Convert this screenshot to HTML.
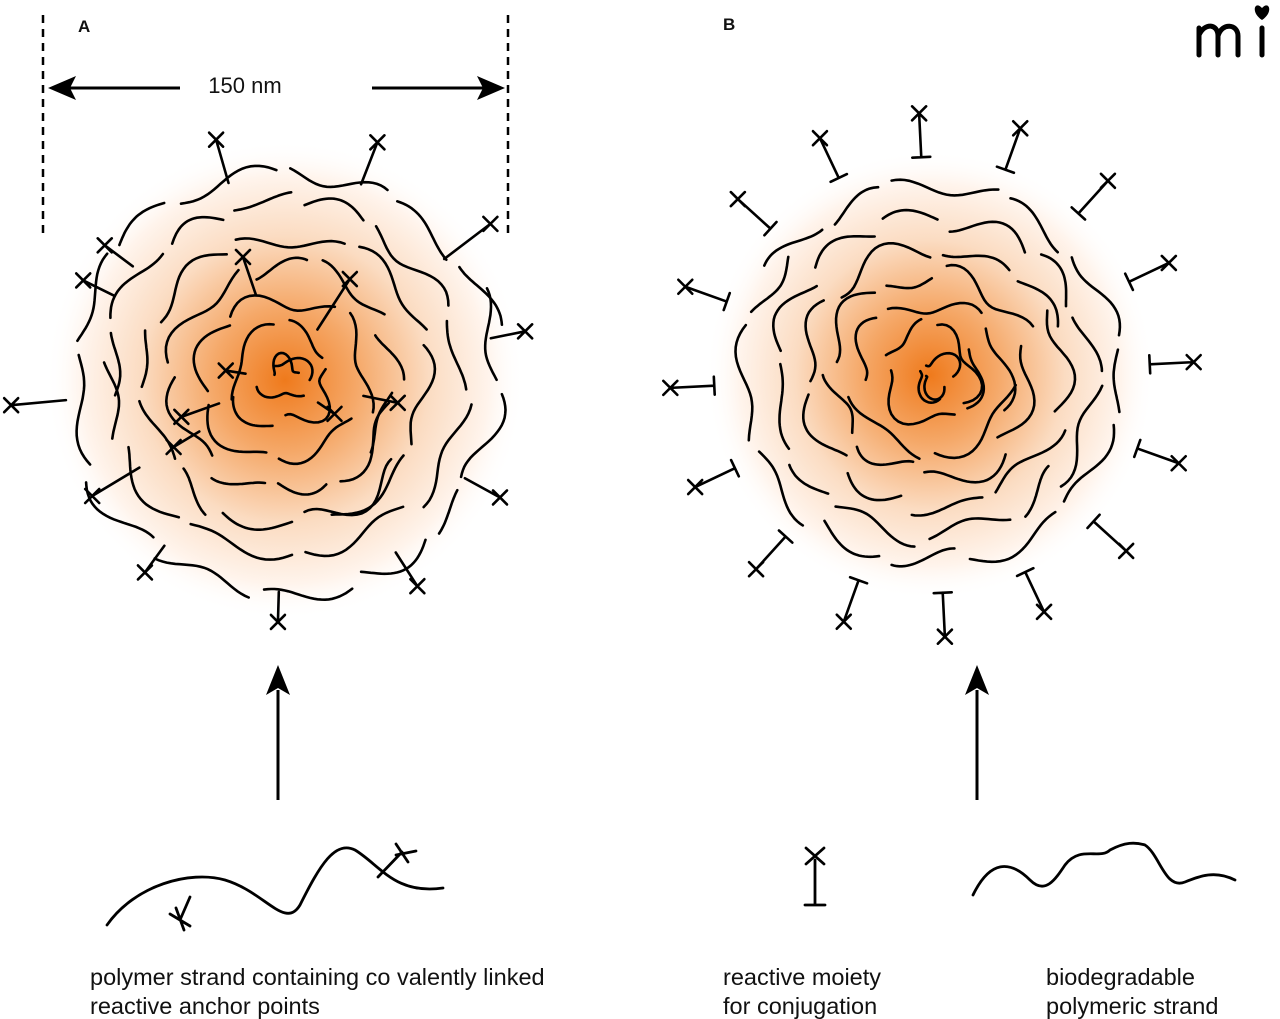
<!DOCTYPE html>
<html><head><meta charset="utf-8">
<style>
html,body{margin:0;padding:0;background:#fff;}
svg{display:block}
text{font-family:"Liberation Sans",sans-serif;fill:#111}
</style></head>
<body>
<svg id="s" width="1280" height="1019" viewBox="0 0 1280 1019" xmlns="http://www.w3.org/2000/svg">
<defs>
<radialGradient id="ga" cx="0.5" cy="0.5" r="0.5">
<stop offset="0" stop-color="#ef7a1c"/>
<stop offset="0.3" stop-color="#f5a868"/>
<stop offset="0.6" stop-color="#fbdcc2"/>
<stop offset="0.85" stop-color="#fff4ec"/>
<stop offset="1" stop-color="#ffffff" stop-opacity="0"/>
</radialGradient>
</defs>
<rect width="1280" height="1019" fill="#fff"/>
<circle cx="285" cy="380" r="240" fill="url(#ga)"/>
<circle cx="930" cy="375" r="225" fill="url(#ga)"/>
<g id="sq" fill="none" stroke="#000" stroke-width="2.6" stroke-linecap="round"></g>

<text x="78" y="32" font-size="17" font-weight="bold">A</text>
<text x="723" y="30" font-size="17" font-weight="bold">B</text>
<line x1="43" y1="15" x2="43" y2="235" stroke="#000" stroke-width="2.5" stroke-dasharray="8,6"/>
<line x1="508" y1="15" x2="508" y2="235" stroke="#000" stroke-width="2.5" stroke-dasharray="8,6"/>
<line x1="180" y1="88" x2="60" y2="88" stroke="#000" stroke-width="3"/>
<path d="M48,88 L76,76 L70,88 L76,100 z" fill="#000"/>
<line x1="372" y1="88" x2="492" y2="88" stroke="#000" stroke-width="3"/>
<path d="M505,88 L477,76 L483,88 L477,100 z" fill="#000"/>
<text x="245" y="93" font-size="22" text-anchor="middle">150 nm</text>

<line x1="278" y1="800" x2="278" y2="690" stroke="#000" stroke-width="3"/>
<path d="M278,665 L266,695 L278,688 L290,695 z" fill="#000"/>
<line x1="977" y1="800" x2="977" y2="690" stroke="#000" stroke-width="3"/>
<path d="M977,665 L965,695 L977,688 L989,695 z" fill="#000"/>

<g fill="none" stroke="#000" stroke-width="2.8" stroke-linecap="round">
<path d="M107,925 C135,885 190,870 225,880 C265,892 285,930 300,905 C320,865 335,840 355,850 C380,865 395,895 443,888"/>
<path d="M190,897 L180,920 M170,914 L190,926 M176,908 L184,930"/>
<path d="M378,877 L402,852 M396,844 L408,862 M396,855 L416,851"/>
<path d="M815,860 L815,905 M805,905 L825,905 M806,848 L824,864 M824,848 L806,864"/>
<path d="M973,895 C990,860 1010,860 1030,880 C1045,895 1055,880 1065,865 C1080,845 1100,860 1110,850 C1125,842 1135,842 1145,845 C1160,855 1165,890 1185,882 C1200,876 1215,870 1235,880"/>
</g>

<text x="90" y="985" font-size="23.5">polymer strand containing co valently linked</text>
<text x="90" y="1014" font-size="23.5">reactive anchor points</text>
<text x="723" y="985" font-size="23.5">reactive moiety</text>
<text x="723" y="1014" font-size="23.5">for conjugation</text>
<text x="1046" y="985" font-size="23.5">biodegradable</text>
<text x="1046" y="1014" font-size="23.5">polymeric strand</text>

<g fill="none" stroke="#000" stroke-width="5" stroke-linecap="round">
<path d="M1199,28 L1199,55 M1199,35 C1205,22 1218,24 1218,36 L1218,55 M1218,36 C1222,22 1238,24 1238,36 L1238,55 M1262,28 L1262,55"/>
</g>
<path d="M1262,8 C1255,0 1250,12 1262,20 C1274,12 1269,0 1262,8 z" fill="#000"/>
</svg>
<script>
(function(){
var g=document.getElementById('sq'),ns='http://www.w3.org/2000/svg';
function seed(s){return function(){s=(s*9301+49297)%233280;return s/233280;};}
var rnd=seed(11);
function add(d,sw){var p=document.createElementNS(ns,'path');p.setAttribute('d',d);if(sw)p.setAttribute('stroke-width',sw);g.appendChild(p);}
function rings(cx,cy,Rs){
 Rs.forEach(function(R,i){
  var th=rnd()*6.28, end=th+Math.PI*2;
  while(th<end){
   var arcLen=45+rnd()*70;
   var len=arcLen/R; if(len>2.2)len=2.2;
   var k=(R/22)+1+rnd()*1.5, ph=rnd()*6, amp=6+rnd()*6, off=(rnd()-0.5)*10;
   var d='';
   for(var t=0;t<=1.0001;t+=0.04){
    var a=th+len*t, r=R+off+amp*Math.sin(k*a+ph);
    d+=(t==0?'M':'L')+(cx+r*Math.cos(a)).toFixed(1)+','+(cy+r*Math.sin(a)).toFixed(1);
   }
   add(d);
   th+=len+ (14/R);
  }
 });
}
rings(285,380,[20,50,80,112,144,178,212]);
rings(932,375,[20,47,75,103,131,160,188]);
function anchorA(cx,cy,a,r1,r2){
 var x1=cx+r1*Math.cos(a),y1=cy+r1*Math.sin(a),x2=cx+r2*Math.cos(a),y2=cy+r2*Math.sin(a);
 add('M'+x1+','+y1+'L'+x2+','+y2+'M'+(x2-7)+','+(y2-7)+'L'+(x2+7)+','+(y2+7)+'M'+(x2+7)+','+(y2-7)+'L'+(x2-7)+','+(y2+7));
}
var A=[[-1.85,205,250],[-1.2,210,255],[-0.65,200,258],[-0.2,210,245],[0.5,205,245],[1.0,205,245],[1.6,212,242],[2.2,205,238],[2.6,170,225],[3.05,220,275],[3.6,190,225],[-2.5,190,225],[-1.9,90,130],[-1.0,60,120],[2.8,70,110],[0.2,80,115],[0.6,40,60],[3.3,40,60],[2.6,100,130]];
A.forEach(function(v){anchorA(285,380,v[0],v[1],v[2]);});
function anchorB(cx,cy,a,r1,r2){
 var c=Math.cos(a),s=Math.sin(a);
 var x1=cx+r1*c,y1=cy+r1*s,x2=cx+r2*c,y2=cy+r2*s;
 add('M'+x1+','+y1+'L'+x2+','+y2+'M'+(x1-9*s)+','+(y1+9*c)+'L'+(x1+9*s)+','+(y1-9*c)+'M'+(x2-7)+','+(y2-7)+'L'+(x2+7)+','+(y2+7)+'M'+(x2+7)+','+(y2-7)+'L'+(x2-7)+','+(y2+7));
}
for(var i=0;i<16;i++){var a=-1.62+i*Math.PI*2/16;anchorB(932,375,a,218,262);}
})();
</script>
</body></html>
